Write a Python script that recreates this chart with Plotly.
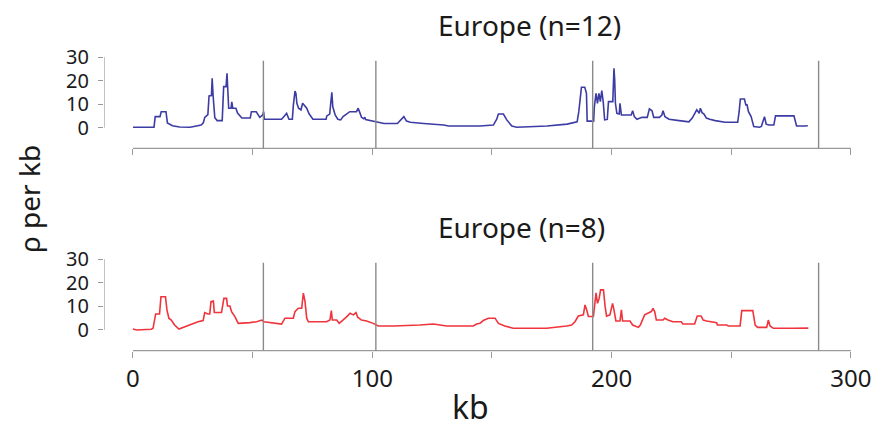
import plotly.graph_objects as go

# ---- data ----
kb_n12 = [0, 8.8, 9.3, 11.3, 11.8, 13.8, 14.4, 16.5, 19.5, 23.8, 25.5, 28.5, 29.4, 30.0, 31.3, 31.8, 32.8, 33.1,
          33.5, 34.2, 35.2, 37.3, 37.9, 38.9, 39.3, 39.6, 40.0, 41.0, 41.3, 41.7, 43.0, 43.7, 45.5, 49.0, 49.5,
          51.5, 52.0, 53.0, 54.2, 54.6, 54.9, 62.1, 63.3, 64.2, 65.2, 66.6, 67.0, 67.7, 68.1, 68.5, 69.2, 70.2,
          70.9, 71.6, 72.6, 73.6, 75.2, 80.7, 81.0, 82.2, 82.6, 83.1, 83.5, 84.5, 85.6, 86.8, 87.8, 89.2, 90.6,
          93.4, 94.1, 94.8, 95.5, 96.4, 96.9, 97.2, 99.3, 101.8, 104.9, 110.5, 111.8, 113.2, 114.3, 115.9, 121.5,
          125.7, 129.8, 131.9, 145.0, 150.6, 152.0, 152.7, 154.8, 156.2, 158.3, 160.4, 173.0, 181.4, 185.6, 186.3,
          187.4, 188.8, 189.5, 189.8, 192.5, 192.8, 193.5, 194.1, 194.7, 195.3, 195.9, 196.5, 197.1, 198.2, 198.7,
          200.5, 201.0, 201.3, 201.6, 202.2, 203.2, 203.5, 204.1, 208.2, 208.8, 209.5, 210.6, 212.7, 214.9, 215.8,
          216.9, 217.6, 220.0, 221.0, 221.5, 222.3, 224.0, 228.2, 232.3, 233.7, 234.6, 235.6, 236.2, 236.6, 237.1,
          237.8, 238.6, 239.6, 241.0, 243.3, 247.4, 252.7, 253.3, 253.8, 255.5, 256.1, 256.6, 257.2, 258.3, 259.4,
          261.8, 262.6, 263.2, 263.9, 264.6, 265.7, 267.8, 268.5, 276.2, 276.6, 277.3, 280.5, 282.0]
rho_n12 = [0.2, 0.2, 4.7, 4.7, 6.8, 6.8, 2.0, 0.8, 0.3, 0.2, 0.5, 1.1, 2.1, 4.4, 5.6, 13.5, 13.7, 21.0,
           13.5, 4.2, 3.0, 3.0, 17.5, 17.5, 23.2, 16.8, 8.3, 8.3, 11.0, 8.3, 8.3, 6.2, 4.1, 4.1, 6.8,
           6.8, 5.8, 4.4, 5.4, 6.8, 3.6, 3.6, 5.0, 6.1, 3.6, 3.6, 9.4, 15.6, 14.6, 10.4, 8.3, 7.6,
           10.4, 9.7, 8.3, 5.9, 3.6, 3.6, 5.0, 5.8, 8.9, 15.1, 8.9, 5.4, 3.6, 3.3, 4.7, 5.8, 6.8,
           6.8, 8.3, 6.4, 4.4, 3.8, 4.4, 3.5, 3.0, 2.5, 1.8, 1.8, 3.3, 4.7, 2.8, 2.3, 1.8,
           1.5, 1.1, 0.7, 0.7, 1.1, 3.6, 5.8, 5.8, 3.3, 0.7, 0.2, 0.7, 1.5, 2.5, 6.8,
           17.2, 17.2, 14.6, 2.8, 2.8, 8.9, 14.6, 10.4, 14.6, 11.1, 15.8, 11.1, 3.3, 3.5, 11.1,
           11.1, 25.3, 20.3, 10.4, 6.1, 5.8, 10.4, 5.4, 5.4, 7.2, 4.7, 3.6, 4.4, 4.4, 8.0,
           7.2, 4.4, 4.4, 5.4, 7.2, 4.7, 3.6, 3.0, 2.5, 4.1, 5.8, 7.6, 6.8, 6.1, 8.3,
           6.4, 5.8, 4.1, 3.6, 3.0, 2.3, 2.3, 6.8, 12.2, 12.2, 9.7, 9.7, 6.8, 4.7, 0.5,
           0.2, 0.5, 2.5, 4.7, 1.5, 1.1, 1.1, 5.0, 5.0, 3.3, 0.7, 0.7, 0.8]

kb_n8 = [0, 1.5, 7.7, 8.4, 9.5, 11.1, 11.7, 13.6, 14.2, 15.0, 16.0, 17.4, 19.2, 20.9, 23.0, 25.0, 27.2, 29.3,
         30.0, 31.3, 32.1, 32.6, 33.6, 34.0, 37.0, 38.0, 39.1, 39.5, 40.5, 41.2, 42.6, 44.0, 47.5, 48.9, 51.7,
         53.8, 54.7, 58.7, 62.1, 63.5, 67.0, 67.7, 69.1, 70.5, 71.2, 71.9, 72.6, 73.3, 80.9, 82.3, 82.9, 83.3,
         85.1, 86.2, 87.9, 89.6, 90.7, 92.1, 93.2, 93.9, 95.5, 97.6, 100.4, 102.5, 108.8, 114.3, 119.9, 125.5,
         128.3, 131.1, 142.2, 143.6, 145.0, 146.4, 148.5, 151.3, 152.7, 155.4, 158.9, 172.9, 181.2, 183.3, 184.7,
         186.1, 188.2, 188.9, 189.6, 190.3, 192.4, 192.8, 193.5, 194.1, 194.8, 195.4, 196.6, 197.3, 197.9, 199.3,
         200.4, 201.0, 201.8, 203.5, 204.1, 204.6, 207.7, 208.8, 211.2, 212.0, 213.8, 216.6, 217.3, 218.0, 218.7,
         221.5, 222.2, 223.6, 225.6, 229.1, 229.8, 234.7, 235.4, 235.8, 237.4, 238.3, 239.7, 243.9, 244.2, 248.1,
         248.8, 253.7, 254.4, 259.0, 260.0, 261.0, 264.8, 265.5, 266.2, 267.6, 276.0, 280.8, 282.2]
rho_n8 = [0.4, 0.0, 0.3, 0.7, 6.8, 6.8, 14.1, 14.1, 8.5, 5.0, 4.2, 2.1, 0.4, 1.1, 2.1, 2.8, 3.5, 4.0,
          7.4, 6.8, 6.8, 12.0, 12.3, 7.4, 7.4, 13.4, 13.4, 10.2, 10.2, 7.8, 5.7, 2.8, 2.8, 3.1, 3.5,
          4.2, 3.5, 2.8, 2.5, 5.0, 5.0, 7.8, 9.2, 9.2, 15.6, 12.0, 5.0, 3.5, 3.5, 4.2, 8.2, 4.2,
          4.2, 2.8, 4.2, 5.9, 7.1, 6.4, 7.4, 5.4, 4.2, 3.8, 2.8, 1.7, 1.7, 1.8, 2.1, 2.5,
          2.1, 1.7, 1.7, 2.5, 2.8, 4.0, 5.0, 5.0, 2.8, 1.7, 0.7, 0.7, 1.7, 2.1, 3.5,
          5.9, 6.4, 10.6, 8.5, 5.7, 5.7, 9.2, 15.8, 11.3, 13.4, 17.0, 17.0, 9.9, 5.9, 6.4,
          11.3, 8.5, 3.8, 3.8, 8.5, 3.8, 3.8, 2.1, 1.1, 2.1, 6.4, 7.8, 9.2, 7.8, 4.2,
          4.2, 5.0, 4.2, 3.5, 3.5, 2.5, 2.5, 4.5, 5.9, 5.9, 4.2, 3.8, 3.1, 2.1, 2.1,
          1.7, 1.7, 8.2, 8.2, 2.1, 1.1, 1.1, 4.2, 1.7, 0.7, 0.7, 0.6, 0.8]

boundaries_kb = [54.5, 101.5, 192.1, 286.5]
panel_titles = ["Europe (n=12)", "Europe (n=8)"]
x_tickvals = [0, 50, 100, 150, 200, 250, 300]
x_ticktext = ["0", "", "100", "", "200", "", "300"]
y_tickvals = [0, 10, 20, 30]

# ---- layout constants ----
PAGE_OFFSET = 8          # default body margin of the html page
W, H = 882 - 2 * PAGE_OFFSET, 428 - 2 * PAGE_OFFSET
FONT = "Noto Sans"
AX_GRAY = "#9a9a9a"
X_RANGE = [-12.1, 301]
Y_RANGE = [-8.8, 30.5]

def xp(px):   # screen px -> paper x
    return (px - PAGE_OFFSET) / W

def py(px):   # screen px -> paper y
    return 1 - (px - PAGE_OFFSET) / H

fig = go.Figure()
fig.add_trace(go.Scatter(x=kb_n12, y=rho_n12, mode="lines", line=dict(color="#3c3ca4", width=1.6),
                         xaxis="x", yaxis="y", showlegend=False, hoverinfo="skip"))
fig.add_trace(go.Scatter(x=kb_n8, y=rho_n8, mode="lines", line=dict(color="#f0343c", width=1.6),
                         xaxis="x2", yaxis="y2", showlegend=False, hoverinfo="skip"))

xdom = [xp(104.0), xp(853.3)]
common_x = dict(range=X_RANGE, domain=xdom, showgrid=False, zeroline=False, showline=False, automargin=False,
                tickvals=x_tickvals, ticks="outside", ticklen=6, tickwidth=1.2, tickcolor=AX_GRAY,
                tickfont=dict(family=FONT, size=24, color="#1a1a1a"))
common_y = dict(range=Y_RANGE, showgrid=False, zeroline=False, showline=False, automargin=False,
                tickvals=y_tickvals, ticks="outside", ticklen=5, tickwidth=1.2, tickcolor=AX_GRAY,
                tickfont=dict(family=FONT, size=20, color="#1a1a1a"), ticklabelstandoff=5)

fig.update_layout(
    width=W, height=H, margin=dict(l=0, r=0, t=0, b=0, autoexpand=False),
    paper_bgcolor="white", plot_bgcolor="white",
    xaxis=dict(**common_x, anchor="y", showticklabels=False),
    yaxis=dict(**common_y, domain=[py(148.3), py(56.1)], anchor="x"),
    xaxis2=dict(**common_x, anchor="y2", ticktext=x_ticktext, showticklabels=True, ticklabelstandoff=0),
    yaxis2=dict(**common_y, domain=[py(350.7), py(258.1)], anchor="x2"),
)

shapes = []
for xa, ya in (("x", "y"), ("x2", "y2")):
    # x axis line 0..300 at bottom of plot area
    shapes.append(dict(type="line", xref=xa, yref=ya + " domain", x0=0, x1=300, y0=0, y1=0,
                       line=dict(color=AX_GRAY, width=1.2)))
    # y axis line 0..30 at left edge
    shapes.append(dict(type="line", xref=xa, yref=ya, x0=X_RANGE[0], x1=X_RANGE[0], y0=0, y1=30,
                       line=dict(color=AX_GRAY, width=1.2)))
    for b in boundaries_kb:
        shapes.append(dict(type="line", xref=xa, yref=ya, x0=b, x1=b, y0=Y_RANGE[0], y1=28.5,
                           line=dict(color="#8a8a8a", width=1.4)))
fig.update_layout(shapes=shapes)

annotations = []
for text, ypx in ((panel_titles[0], 25), (panel_titles[1], 227)):
    annotations.append(dict(text=text, x=xp(436), y=py(ypx), xanchor="left", yanchor="middle",
                            xref="paper", yref="paper", showarrow=False,
                            font=dict(family=FONT, size=28, color="#1a1a1a")))
annotations.append(dict(text="ρ per kb", x=xp(29), y=py(199), xref="paper", yref="paper", showarrow=False,
                        textangle=-90, xanchor="center", yanchor="middle",
                        font=dict(family=FONT, size=28, color="#1a1a1a")))
annotations.append(dict(text="kb", x=xp(470), y=py(406), xref="paper", yref="paper", showarrow=False,
                        xanchor="center", yanchor="middle",
                        font=dict(family=FONT, size=32, color="#1a1a1a")))
fig.update_layout(annotations=annotations)

fig.write_html("out.html")
